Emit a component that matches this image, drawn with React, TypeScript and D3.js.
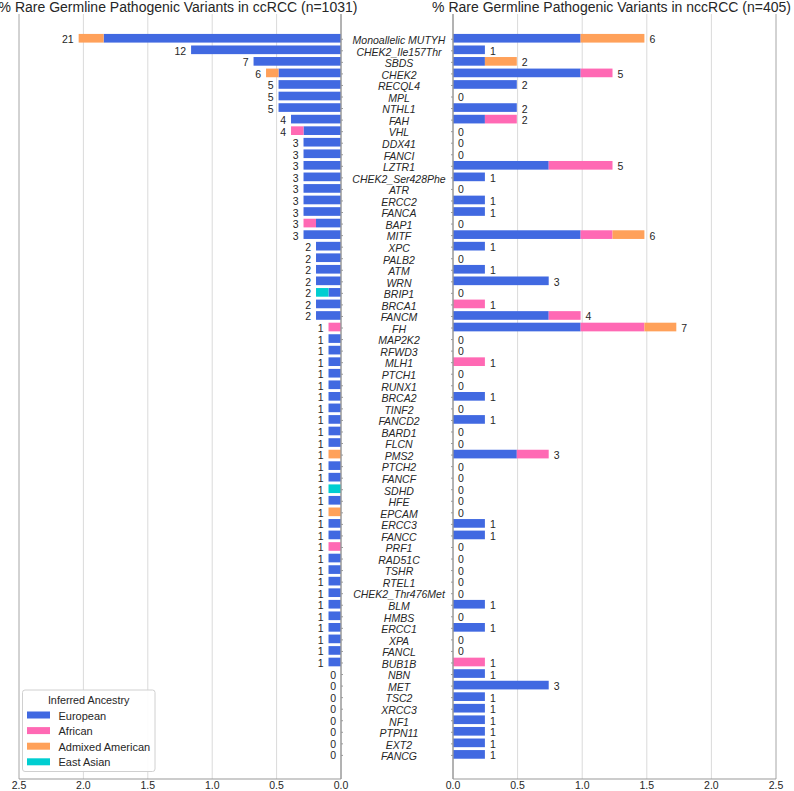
import React from "react";
import * as d3 from "d3";

const genes = [
  "Monoallelic MUTYH","CHEK2_Ile157Thr","SBDS","CHEK2","RECQL4","MPL","NTHL1","FAH","VHL","DDX41",
  "FANCI","LZTR1","CHEK2_Ser428Phe","ATR","ERCC2","FANCA","BAP1","MITF","XPC","PALB2",
  "ATM","WRN","BRIP1","BRCA1","FANCM","FH","MAP2K2","RFWD3","MLH1","PTCH1",
  "RUNX1","BRCA2","TINF2","FANCD2","BARD1","FLCN","PMS2","PTCH2","FANCF","SDHD",
  "HFE","EPCAM","ERCC3","FANCC","PRF1","RAD51C","TSHR","RTEL1","CHEK2_Thr476Met","BLM",
  "HMBS","ERCC1","XPA","FANCL","BUB1B","NBN","MET","TSC2","XRCC3","NF1",
  "PTPN11","EXT2","FANCG",
];

const ancestries = ["European", "African", "Admixed American", "East Asian"];
const ancestryColors = ["#4169E1", "#FF69B4", "#FFA15A", "#00CED1"];

const ccN = 1031;
const nccN = 405;

// ccRCC counts by ancestry
const ccEUR = [19,12,7,5,5,5,5,4,3,3, 3,3,3,3,3,3,2,3,2,2, 2,2,1,2,2,0,1,1,1,1, 1,1,1,1,1,1,0,1,1,0, 1,0,1,1,0,1,1,1,1,1, 1,1,1,1,1,0,0,0,0,0, 0,0,0];
const ccAFR = [0,0,0,0,0,0,0,0,1,0, 0,0,0,0,0,0,1,0,0,0, 0,0,0,0,0,1,0,0,0,0, 0,0,0,0,0,0,0,0,0,0, 0,0,0,0,1,0,0,0,0,0, 0,0,0,0,0,0,0,0,0,0, 0,0,0];
const ccAMR = [2,0,0,1,0,0,0,0,0,0, 0,0,0,0,0,0,0,0,0,0, 0,0,0,0,0,0,0,0,0,0, 0,0,0,0,0,0,1,0,0,0, 0,1,0,0,0,0,0,0,0,0, 0,0,0,0,0,0,0,0,0,0, 0,0,0];
const ccEAS = [0,0,0,0,0,0,0,0,0,0, 0,0,0,0,0,0,0,0,0,0, 0,0,1,0,0,0,0,0,0,0, 0,0,0,0,0,0,0,0,0,1, 0,0,0,0,0,0,0,0,0,0, 0,0,0,0,0,0,0,0,0,0, 0,0,0];

// nccRCC counts by ancestry
const nccEUR = [4,1,1,4,2,0,2,1,0,0, 0,3,1,0,1,1,0,4,1,0, 1,3,0,0,3,4,0,0,0,0, 0,1,0,1,0,0,2,0,0,0, 0,0,1,1,0,0,0,0,0,1, 0,1,0,0,0,1,3,1,1,1, 1,1,1];
const nccAFR = [0,0,0,1,0,0,0,1,0,0, 0,2,0,0,0,0,0,1,0,0, 0,0,0,1,1,2,0,0,1,0, 0,0,0,0,0,0,1,0,0,0, 0,0,0,0,0,0,0,0,0,0, 0,0,0,0,1,0,0,0,0,0, 0,0,0];
const nccAMR = [2,0,1,0,0,0,0,0,0,0, 0,0,0,0,0,0,0,1,0,0, 0,0,0,0,0,1,0,0,0,0, 0,0,0,0,0,0,0,0,0,0, 0,0,0,0,0,0,0,0,0,0, 0,0,0,0,0,0,0,0,0,0, 0,0,0];
const nccEAS = [0,0,0,0,0,0,0,0,0,0, 0,0,0,0,0,0,0,0,0,0, 0,0,0,0,0,0,0,0,0,0, 0,0,0,0,0,0,0,0,0,0, 0,0,0,0,0,0,0,0,0,0, 0,0,0,0,0,0,0,0,0,0, 0,0,0];

const xTicks = [0, 0.5, 1.0, 1.5, 2.0, 2.5];

const FONT = "'Liberation Sans', Arial, Helvetica, sans-serif";
const TEXT = "#262626";

function buildRows(series: number[][], n: number) {
  return genes.map((g, i) => {
    const row: any = { gene: g, i, total: 0 };
    ancestries.forEach((a, k) => {
      row[a] = (series[k][i] / n) * 100;
      row.total += series[k][i];
    });
    return row;
  });
}

export default function App() {
  const W = 794, H = 791;
  const top = 14, bottom = 779;
  const y = d3.scaleLinear().domain([-2.1, 64.13]).range([top, bottom]);
  const step = y(1) - y(0);
  const bh = step * 0.75;
  const xL = d3.scaleLinear().domain([2.5, 0]).range([19, 341]);
  const xR = d3.scaleLinear().domain([0, 2.5]).range([453, 776]);

  const stack = d3.stack<any>().keys(ancestries);
  const ccRows = buildRows([ccEUR, ccAFR, ccAMR, ccEAS], ccN);
  const nccRows = buildRows([nccEUR, nccAFR, nccAMR, nccEAS], nccN);
  const ccStack = stack(ccRows);
  const nccStack = stack(nccRows);

  const panel = (x: d3.ScaleLinear<number, number>, st: any[], rows: any[], side: "L" | "R") => {
    const [r0, r1] = x.range();
    const x0 = x(0);
    return (
      <g>
        {xTicks.map((t) => (
          <line key={"g" + t} x1={x(t)} x2={x(t)} y1={top} y2={bottom} stroke="#dadada" strokeWidth={1} />
        ))}
        {st.map((layer: any, k: number) => (
          <g key={layer.key} fill={ancestryColors[k]}>
            {layer.map((d: any, i: number) => {
              const a = x(d[0]);
              const b = x(d[1]);
              const w = Math.abs(b - a);
              if (w <= 0) return null;
              return <rect key={i} x={Math.min(a, b)} y={y(i) - bh / 2} width={w} height={bh} />;
            })}
          </g>
        ))}
        {rows.map((r: any, i: number) => {
          const end = x(d3.sum(ancestries, (a) => r[a]));
          return (
            <text key={"c" + i} x={side === "L" ? end - 5 : end + 5} y={y(i) + 1}
              textAnchor={side === "L" ? "end" : "start"} dominantBaseline="central"
              fontSize={10.5} fill={TEXT} fontFamily={FONT}>{r.total}</text>
          );
        })}
        {/* spines */}
        <line x1={side === "L" ? r0 : r1} x2={side === "L" ? r0 : r1} y1={top} y2={bottom} stroke="#bdbdbd" strokeWidth={1.1} />
        <line x1={x0} x2={x0} y1={top} y2={bottom} stroke="#9a9a9a" strokeWidth={1.4} />
        <line x1={Math.min(r0, r1)} x2={Math.max(r0, r1)} y1={bottom} y2={bottom} stroke="#9a9a9a" strokeWidth={1.2} />
        {genes.map((g, i) => (
          <line key={"t" + i} x1={side === "L" ? x0 : x0 - 2} x2={side === "L" ? x0 + 2 : x0} y1={y(i) + 1} y2={y(i) + 1} stroke="#9a9a9a" strokeWidth={1} />
        ))}
        {xTicks.map((t) => (
          <text key={"tl" + t} x={x(t)} y={784.5} textAnchor="middle" dominantBaseline="central"
            fontSize={10.5} fill={TEXT} fontFamily={FONT}>{t.toFixed(1)}</text>
        ))}
      </g>
    );
  };

  return (
    <div style={{ position: "absolute", left: 0, top: 0 }}>
      <svg width={W} height={H} style={{ display: "block", background: "#fff" }}>
        <rect x={0} y={0} width={W} height={H} fill="#fff" />
        {panel(xL, ccStack, ccRows, "L")}
        {panel(xR, nccStack, nccRows, "R")}
        {genes.map((g, i) => (
          <text key={g} x={399} y={y(i) + 1.8} textAnchor="middle" dominantBaseline="central"
            fontSize={10.5} fontStyle="italic" fill={TEXT} fontFamily={FONT}>{g}</text>
        ))}
        <text x={(19 + 341) / 2 - 2} y={6.5} textAnchor="middle" dominantBaseline="central"
          fontSize={14} fill={TEXT} fontFamily={FONT}>% Rare Germline Pathogenic Variants in ccRCC (n=1031)</text>
        <text x={(453 + 776) / 2 - 3} y={6.5} textAnchor="middle" dominantBaseline="central"
          fontSize={14} fill={TEXT} fontFamily={FONT}>% Rare Germline Pathogenic Variants in nccRCC (n=405)</text>
        <g>
          <rect x={22.5} y={690} width={132.5} height={81.5} rx={2.5} fill="#fff" stroke="#d0d0d0" strokeWidth={1} fillOpacity={0.9} />
          <text x={88.7} y={700} textAnchor="middle" dominantBaseline="central" fontSize={10.8} fill={TEXT} fontFamily={FONT}>Inferred Ancestry</text>
          {ancestries.map((a, k) => (
            <g key={a}>
              <rect x={27} y={715 + k * 15.6 - 3.5} width={23} height={7} fill={ancestryColors[k]} />
              <text x={58.5} y={715 + k * 15.6 + 0.5} dominantBaseline="central" fontSize={11} fill={TEXT} fontFamily={FONT}>{a}</text>
            </g>
          ))}
        </g>
      </svg>
    </div>
  );
}
